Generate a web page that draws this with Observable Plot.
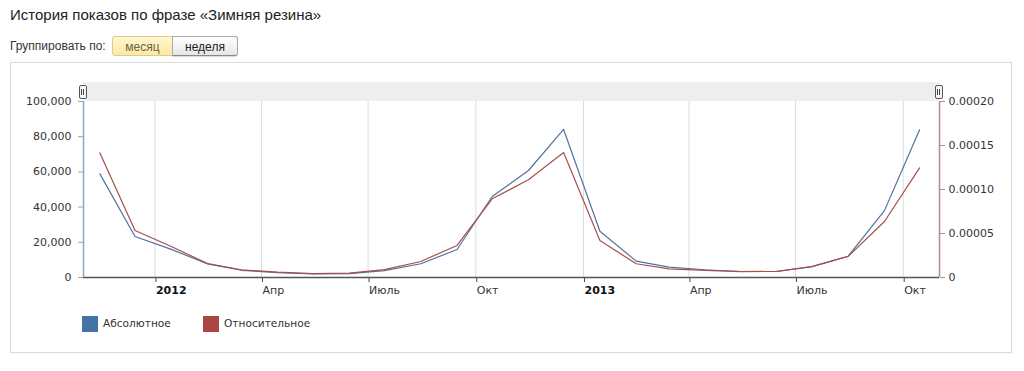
<!DOCTYPE html>
<html>
<head>
<meta charset="utf-8">
<script src="https://cdn.jsdelivr.net/npm/d3@7"></script>
<script src="https://cdn.jsdelivr.net/npm/@observablehq/plot@0.6"></script>
<style>
  html, body { margin: 0; padding: 0; background: #fff; }
  body { position: relative; width: 1024px; height: 371px; overflow: hidden; font-family: "Liberation Sans", Arial, sans-serif; }
  #title { position: absolute; left: 10px; top: 6px; font-size: 15px; color: #222; }
  #group { position: absolute; left: 10px; top: 39px; font-size: 12px; color: #333; }
  .btn { position: absolute; top: 36px; height: 20px; line-height: 20px; font-size: 12px; text-align: center; box-sizing: border-box; }
  #b1 { left: 112px; width: 61px; background: linear-gradient(#fff6cf, #fde9a3); border: 1px solid #d9ca8e; color: #6b6446; border-radius: 3px 0 0 3px; }
  #b2 { left: 172px; width: 66px; background: linear-gradient(#ffffff, #e6e6e6); border: 1px solid #aaa; border-bottom-color: #888; color: #222; border-radius: 0 3px 3px 0; box-shadow: 0 1px 1px rgba(0,0,0,0.15); }
  #box { position: absolute; left: 10px; top: 62px; width: 1002px; height: 291px; border: 1px solid #dcdcdc; box-sizing: border-box; box-shadow: 0 0 2px rgba(0,0,0,0.06); }
  #band { position: absolute; left: 83px; top: 82px; width: 856px; height: 19px; background: #eeeeee; }
  .handle { position: absolute; top: 85px; width: 6px; height: 12px; border: 1px solid #555; border-radius: 2px; background: #f7f7f7; }
  .handle::before { content: ""; position: absolute; left: 1px; top: 3px; width: 1px; height: 6px; background: #444; }
  .handle::after { content: ""; position: absolute; left: 3px; top: 3px; width: 1px; height: 6px; background: #444; }
  #chart { position: absolute; left: 0; top: 62px; }
  #legend { position: absolute; left: 82px; top: 316px; font-family: "DejaVu Sans", Verdana, sans-serif; font-size: 10.6px; color: #333; }
  .item { position: absolute; top: 0; white-space: nowrap; }
  .sw { position: absolute; top: 0; left: 0; width: 16px; height: 16px; }
  .lab { position: absolute; left: 21px; top: 1px; }
</style>
</head>
<body>
<div id="title">История показов по фразе «Зимняя резина»</div>
<div id="group">Группировать по:</div>
<div class="btn" id="b1">месяц</div>
<div class="btn" id="b2">неделя</div>
<div id="box"></div>
<div id="band"></div>
<div class="handle" style="left:79px"></div>
<div class="handle" style="left:935px"></div>
<div id="chart"></div>
<div id="legend">
  <div class="item" style="left:0"><div class="sw" style="background:#4572a7"></div><span class="lab">Абсолютное</span></div>
  <div class="item" style="left:121px"><div class="sw" style="background:#aa4643"></div><span class="lab">Относительное</span></div>
</div>
<script>
// Months (plotted at mid-month)
const months = ["2011-11","2011-12","2012-01","2012-02","2012-03","2012-04","2012-05","2012-06","2012-07","2012-08","2012-09","2012-10","2012-11","2012-12","2013-01","2013-02","2013-03","2013-04","2013-05","2013-06","2013-07","2013-08","2013-09","2013-10"];
// Absolute impressions (left axis)
const absolute = [58900, 23300, 16000, 7700, 4100, 2800, 2000, 2200, 3900, 7800, 15900, 46000, 60800, 84100, 26300, 9300, 5900, 4400, 3400, 3400, 6200, 12100, 38000, 83900];
// Relative share (right axis)
const relative = [0.0001416, 0.0000534, 0.0000352, 0.0000158, 0.0000086, 0.0000060, 0.0000045, 0.0000050, 0.0000090, 0.0000182, 0.0000364, 0.0000894, 0.0001110, 0.0001420, 0.0000420, 0.0000156, 0.0000098, 0.0000080, 0.0000066, 0.0000070, 0.0000124, 0.0000240, 0.0000636, 0.0001246];
const leftTicks = [0, 20000, 40000, 60000, 80000, 100000];
const rightTicks = [0, 0.00005, 0.0001, 0.00015, 0.0002];
const yearTicks = ["2012-01-01", "2013-01-01"];
const yearLabels = ["2012", "2013"];
const monthTicks = ["2012-04-01", "2012-07-01", "2012-10-01", "2013-04-01", "2013-07-01", "2013-10-01"];
const monthLabels = ["Апр", "Июль", "Окт", "Апр", "Июль", "Окт"];
const xStart = "2011-11-01", xEnd = "2013-11-01";

const toDate = s => new Date(s + (s.length === 7 ? "-15" : "") + "T00:00:00Z");
const ratio = 100000 / 0.0002;
const data = months.map((m, i) => ({date: toDate(m), abs: absolute[i], rel: relative[i] * ratio}));
const yT = yearTicks.map(toDate), mT = monthTicks.map(toDate);
const labelOf = new Map([...yT.map((d, i) => [+d, yearLabels[i]]), ...mT.map((d, i) => [+d, monthLabels[i]])]);
const dom = [toDate(xStart), toDate(xEnd)];

const chart = Plot.plot({
  width: 1024, height: 250,
  marginLeft: 83, marginRight: 85, marginTop: 39, marginBottom: 35,
  style: {fontFamily: "DejaVu Sans, Verdana, sans-serif", fontSize: "11px", background: "transparent", color: "#333", overflow: "visible"},
  x: {type: "utc", domain: dom},
  y: {domain: [0, 100000]},
  marks: [
    Plot.gridX([...yT, ...mT], {stroke: "#dddddd", strokeOpacity: 1}),
    Plot.axisY({ticks: leftTicks, tickFormat: d3.format(","), tickSize: 5, stroke: "#8fa6c4", tickPadding: 7, fill: "#333", label: null}),
    Plot.axisY({anchor: "right", ticks: rightTicks.map(v => v * ratio), tickFormat: d => d === 0 ? "0" : (d / ratio).toFixed(5), tickSize: 5, stroke: "#b58a8a", tickPadding: 4, fill: "#333", label: null}),
    Plot.axisX({ticks: yT, tickFormat: d => labelOf.get(+d), tickSize: 5, stroke: "#444", textAnchor: "start", dx: 1, tickPadding: 4, fontWeight: "bold", fill: "#111", label: null}),
    Plot.axisX({ticks: mT, tickFormat: d => labelOf.get(+d), tickSize: 5, stroke: "#444", textAnchor: "start", dx: 1, tickPadding: 4, fill: "#333", label: null}),
    Plot.ruleY([0], {stroke: "#555", strokeWidth: 1.5}),
    Plot.ruleX([dom[0]], {stroke: "#8fa6c4", strokeWidth: 1.5}),
    Plot.ruleX([dom[1]], {stroke: "#b58a8a", strokeWidth: 1.5}),
    Plot.line(data, {x: "date", y: "abs", stroke: "#50739c", strokeWidth: 1.2}),
    Plot.line(data, {x: "date", y: "rel", stroke: "#a5504d", strokeWidth: 1.2})
  ]
});
document.getElementById("chart").appendChild(chart);
</script>
</body>
</html>
